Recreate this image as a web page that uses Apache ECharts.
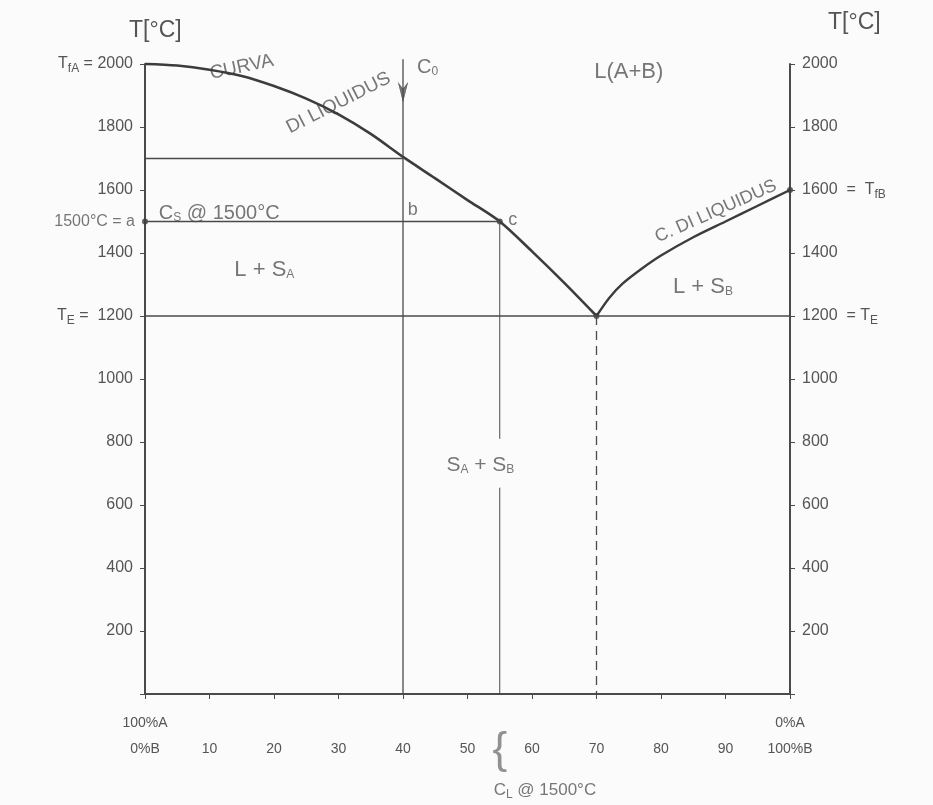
<!DOCTYPE html>
<html>
<head>
<meta charset="utf-8">
<script src="https://cdn.jsdelivr.net/npm/echarts@6/dist/echarts.min.js"></script>
<style>
html, body { margin: 0; background: #fbfbfb; }
#diagramma { width: 933px; height: 805px; }
</style>
</head>
<body>
<div id="diagramma"></div>
<script>
// composizione (% di B) e temperature [°C]
var curvaLiquidusA = [[0, 2000], [5, 1995], [10, 1982], [15, 1962], [20, 1930], [25, 1890], [30, 1840],
	[35, 1778], [40, 1705], [45, 1637], [50, 1568], [55, 1500], [60, 1405], [65, 1305], [70, 1200]];
var curvaLiquidusB = [[70, 1200], [72, 1258], [74, 1302], [77, 1350], [80, 1392], [85, 1450], [90, 1500], [95, 1550], [100, 1600]];
var C0 = 40, T_liq0 = 1700;
var T_lavoro = 1500, C_L = 55;
var T_E = 1200, C_E = 70;
var T_fA = 2000, T_fB = 1600;
var puntiNotevoli = [[0, T_lavoro], [C_L, T_lavoro], [C_E, T_E], [100, T_fB]];
// scritte: [x, y, testo, rotazione, dimensione]
var scritte = [
	[15, 1990, 'CURVA', 12, 19],
	[30, 1876, 'DI LIQUIDUS', 27, 19],
	[88.5, 1532, 'C. DI LIQUIDUS', 24, 18],
	[75, 1975, 'L(A+B)', 0, 22],
	[11.5, 1527, 'C{s|S} @ 1500°C', 0, 20],
	[18.5, 1346, 'L + S{s|A}', 0, 22],
	[86.5, 1292, 'L + S{s|B}', 0, 22],
	[52, 727, 'S{s|A} + S{s|B}', 0, 21],
	[41.5, 1535, 'b', 0, 18],
	[57, 1505, 'c', 0, 18],
	[43.8, 1990, 'C{s|0}', 0, 20],
	[62, -305, 'C{s|L} @ 1500°C', 0, 17]
];

var chart = echarts.init(document.getElementById('diagramma'));

var grigio = '#4a4a4a';
var testo = '#555555';
var rich = {
	s: { fontSize: 12, color: testo, verticalAlign: 'bottom', padding: [9, 0, 0, 0] },
	a: { fontSize: 14, color: testo, lineHeight: 26 }
};

function retta(dati, extra) {
	var s = {
		type: 'line', data: dati, showSymbol: false, clip: false, silent: true,
		lineStyle: { color: grigio, width: 1.3 }
	};
	return Object.assign(s, extra || {});
}

var option = {
	backgroundColor: '#fbfbfb',
	animation: false,
	grid: { left: 145, right: 143, top: 64, bottom: 111 },
	xAxis: {
		type: 'value', min: 0, max: 100, interval: 10,
		axisLine: { lineStyle: { color: grigio, width: 2 } },
		axisTick: { length: 5, lineStyle: { color: grigio } },
		splitLine: { show: false },
		axisLabel: {
			margin: 16, color: testo, fontSize: 14, lineHeight: 26, rich: rich,
			formatter: function (v) {
				if (v === 0) return '{a|100%A}\n0%B';
				if (v === 100) return '{a|0%A}\n100%B';
				return '\n' + v;
			}
		}
	},
	yAxis: [{
		type: 'value', min: 0, max: 2000, interval: 200, position: 'left',
		name: 'T[°C]', nameGap: 22,
		nameTextStyle: { color: testo, fontSize: 23, align: 'left', padding: [0, 0, 0, -16] },
		axisLine: { show: true, lineStyle: { color: grigio, width: 2 } },
		axisTick: { show: true, length: 5, lineStyle: { color: grigio } },
		splitLine: { show: false },
		axisLabel: {
			margin: 12, color: testo, fontSize: 16, rich: rich,
			formatter: function (v) {
				if (v === 0) return '';
				if (v === T_fA) return 'T{s|fA} = ' + v;
				if (v === T_E) return 'T{s|E} =  ' + v;
				return v;
			}
		}
	}, {
		type: 'value', min: 0, max: 2000, interval: 200, position: 'right',
		name: 'T[°C]', nameGap: 30,
		nameTextStyle: { color: testo, fontSize: 23, align: 'left', padding: [0, 0, 0, 38] },
		axisLine: { show: true, lineStyle: { color: grigio, width: 2 } },
		axisTick: { show: true, length: 5, lineStyle: { color: grigio } },
		splitLine: { show: false },
		axisLabel: {
			margin: 12, color: testo, fontSize: 16, rich: rich,
			formatter: function (v) {
				if (v === 0) return '';
				if (v === T_fB) return v + '  =  T{s|fB}';
				if (v === T_E) return v + '  = T{s|E}';
				return v;
			}
		}
	}],
	series: [
		retta(curvaLiquidusA, { smooth: 0.3, lineStyle: { color: '#3c3c3c', width: 2.6 } }),
		retta(curvaLiquidusB, { smooth: 0.3, lineStyle: { color: '#3c3c3c', width: 2.4 } }),
		retta([[C0, 2015], [C0, 0]]),
		retta([[-1.8, T_liq0], [C0, T_liq0]]),
		retta([[0, T_lavoro], [C_L, T_lavoro]]),
		retta([[-1, T_E], [100, T_E]]),
		retta([[C_L, T_lavoro], [C_L, 810]], { lineStyle: { color: grigio, width: 1 } }),
		retta([[C_L, 655], [C_L, 0]], { lineStyle: { color: grigio, width: 1 } }),
		retta([[C_E, T_E], [C_E, 0]], { lineStyle: { color: grigio, width: 1.3, type: [9, 6] } }),
		{
			// freccia su C0
			type: 'scatter', data: [[C0, 1910]], silent: true, clip: false,
			symbol: 'path://M0 0L5 12L10 0L5 4Z', symbolSize: [9, 18],
			itemStyle: { color: '#555', borderColor: '#444', borderWidth: 0.8 }
		},
		{
			type: 'scatter', data: puntiNotevoli, symbolSize: 6, silent: true, clip: false,
			itemStyle: { color: '#3c3c3c' }
		},
		{
			type: 'scatter', symbolSize: 0, silent: true, clip: false,
			data: scritte.map(function (s) {
				return {
					value: [s[0], s[1]],
					label: {
						show: true, position: 'inside', formatter: s[2], rotate: s[3],
						color: testo, fontSize: s[4], rich: rich
					}
				};
			})
		},
		{
			type: 'scatter', symbolSize: 0, silent: true, clip: false,
			data: [{
				value: [C_L, -180],
				label: { show: true, position: 'inside', formatter: '{', fontSize: 44, color: '#777', fontWeight: 'lighter' }
			}, {
				value: [0, T_lavoro],
				label: { show: true, position: 'left', distance: 10, formatter: '1500°C = a', fontSize: 16, color: testo }
			}]
		}
	]
};

chart.setOption(option);
</script>
</body>
</html>
